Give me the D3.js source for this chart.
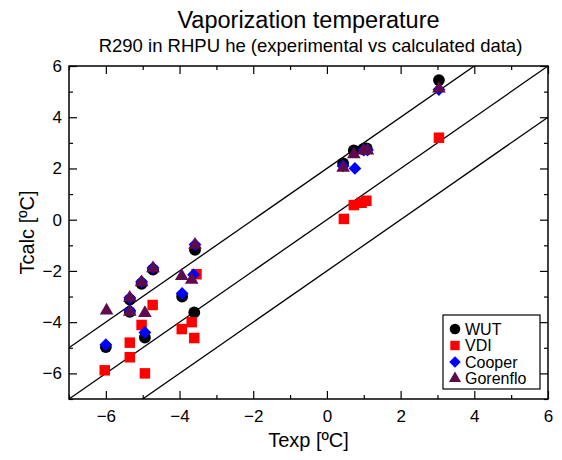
<!DOCTYPE html>
<html>
<head>
<meta charset="utf-8">
<script src="https://cdn.jsdelivr.net/npm/d3@7"></script>
<style>
  body { margin: 0; background: #fff; }
  text { font-family: "Liberation Sans", Arial, sans-serif; }
</style>
</head>
<body>
<div id="chart"></div>
<script>
// WUT (black circles)
var wutX = [-6.0, -5.35, -5.35, -5.03, -4.94, -4.72, -3.93, -3.6, -3.58, 0.44, 0.73, 0.99, 1.08, 3.04];
var wutY = [-4.97, -3.12, -3.6, -2.5, -4.6, -1.95, -3.0, -3.62, -1.18, 2.2, 2.7, 2.76, 2.78, 5.45];
// VDI (red squares)
var vdiX = [-6.03, -5.35, -5.35, -5.03, -4.94, -4.73, -3.94, -3.67, -3.6, -3.54, 0.46, 0.73, 0.94, 1.07, 3.04];
var vdiY = [-5.88, -4.8, -5.37, -4.11, -6.0, -3.33, -4.27, -4.0, -4.62, -2.13, 0.03, 0.57, 0.66, 0.74, 3.2];
// Cooper (blue diamonds)
var coopX = [-6.0, -5.35, -5.35, -5.03, -4.94, -4.72, -3.93, -3.62, -3.58, 0.44, 0.76, 1.0, 1.1, 3.04];
var coopY = [-4.88, -3.05, -3.55, -2.42, -4.4, -1.88, -2.88, -2.15, -0.97, 2.1, 2.0, 2.72, 2.72, 5.08];
// Gorenflo (purple triangles)
var gorX = [-5.98, -5.35, -5.35, -5.03, -4.94, -4.72, -3.94, -3.67, -3.58, 0.44, 0.73, 0.99, 1.1, 3.04];
var gorY = [-3.55, -3.05, -3.6, -2.45, -3.65, -1.9, -2.2, -2.35, -0.98, 2.02, 2.55, 2.7, 2.7, 5.12];

var seriesNames = ["WUT", "VDI", "Cooper", "Gorenflo"];
var tickValues = [-6, -4, -2, 0, 2, 4, 6];
var minorTicks = [-7, -5, -3, -1, 1, 3, 5];
var refOffsets = [2, 0, -2];   // Tcalc = Texp + offset

var W = 562, H = 460;
var margin = {top: 66, right: 14, bottom: 61, left: 69},
    width = W - margin.left - margin.right,
    height = H - margin.top - margin.bottom;

var svg = d3.select("#chart")
    .append("svg")
    .attr("width", W)
    .attr("height", H);

var g = svg.append("g")
    .attr("transform", "translate(" + margin.left + "," + margin.top + ")");

var x = d3.scaleLinear().domain([-7, 6]).range([0, width]);
var y = d3.scaleLinear().domain([-7, 6]).range([height, 0]);

svg.append("defs").append("clipPath").attr("id", "clip")
  .append("rect").attr("width", width).attr("height", height);

// reference lines
var lines = g.append("g").attr("clip-path", "url(#clip)");
refOffsets.forEach(function(o){
  lines.append("line")
    .attr("x1", x(-7)).attr("y1", y(-7 + o))
    .attr("x2", x(6)).attr("y2", y(6 + o))
    .attr("stroke", "#000").attr("stroke-width", 1.3);
});

// axes, ticks pointing inward on all four sides
function styleAxis(sel) {
  sel.select(".domain").remove();
  sel.selectAll("text").style("font-size", "17px").attr("fill", "#000");
  sel.selectAll("line").attr("stroke", "#000").attr("stroke-width", 1.2);
}
g.append("g").attr("transform", "translate(0," + height + ")")
  .call(d3.axisBottom(x).tickValues(tickValues).tickFormat(d3.format("d")).tickSizeInner(-8).tickPadding(11))
  .call(styleAxis);
g.append("g").attr("transform", "translate(0," + height + ")")
  .call(d3.axisBottom(x).tickValues(minorTicks).tickFormat("").tickSizeInner(-4))
  .call(styleAxis);
g.append("g")
  .call(d3.axisTop(x).tickValues(tickValues).tickFormat("").tickSizeInner(-8))
  .call(styleAxis);
g.append("g")
  .call(d3.axisTop(x).tickValues(minorTicks).tickFormat("").tickSizeInner(-4))
  .call(styleAxis);
g.append("g")
  .call(d3.axisLeft(y).tickValues(tickValues).tickFormat(d3.format("d")).tickSizeInner(-8).tickPadding(7))
  .call(styleAxis);
g.append("g")
  .call(d3.axisLeft(y).tickValues(minorTicks).tickFormat("").tickSizeInner(-4))
  .call(styleAxis);
g.append("g").attr("transform", "translate(" + width + ",0)")
  .call(d3.axisRight(y).tickValues(tickValues).tickFormat("").tickSizeInner(-8))
  .call(styleAxis);
g.append("g").attr("transform", "translate(" + width + ",0)")
  .call(d3.axisRight(y).tickValues(minorTicks).tickFormat("").tickSizeInner(-4))
  .call(styleAxis);

g.append("rect")
  .attr("width", width).attr("height", height)
  .attr("fill", "none").attr("stroke", "#000").attr("stroke-width", 1.5);

// markers (diamond = square turned 45deg)
var series = [
  {xs: wutX, ys: wutY, sym: d3.symbolCircle, size: 110, rot: 0, color: "#000000"},
  {xs: vdiX, ys: vdiY, sym: d3.symbolSquare, size: 110, rot: 0, color: "#ff0000"},
  {xs: coopX, ys: coopY, sym: d3.symbolSquare, size: 82, rot: 45, color: "#0000ff"},
  {xs: gorX, ys: gorY, sym: d3.symbolTriangle, size: 80, rot: 0, color: "#5f0a4f"}
];

series.forEach(function(s){
  var pts = s.xs.map(function(v, i){ return [v, s.ys[i]]; });
  g.append("g").selectAll("path")
    .data(pts)
    .enter().append("path")
    .attr("transform", function(d){ return "translate(" + x(d[0]) + "," + y(d[1]) + ") rotate(" + s.rot + ")"; })
    .attr("d", d3.symbol().type(s.sym).size(s.size))
    .attr("fill", s.color);
});

// legend
var lg = g.append("g").attr("transform", "translate(" + (443 - margin.left) + "," + (315 - margin.top) + ")");
lg.append("rect").attr("width", 97).attr("height", 74)
  .attr("fill", "#fff").attr("stroke", "#000").attr("stroke-width", 1.2);
series.forEach(function(s, i){
  var yy = 14 + i * 16.5;
  lg.append("path")
    .attr("transform", "translate(12," + yy + ") rotate(" + s.rot + ")")
    .attr("d", d3.symbol().type(s.sym).size(s.size * 0.8))
    .attr("fill", s.color);
  lg.append("text").attr("x", 22).attr("y", yy + 5.5)
    .style("font-size", "16px").text(seriesNames[i]);
});

// titles
svg.append("text").attr("x", margin.left + width / 2).attr("y", 28)
  .attr("text-anchor", "middle").style("font-size", "23.5px")
  .text("Vaporization temperature");
svg.append("text").attr("x", margin.left + width / 2 + 2).attr("y", 52)
  .attr("text-anchor", "middle").style("font-size", "18.5px")
  .text("R290 in RHPU he (experimental vs calculated data)");
svg.append("text").attr("x", margin.left + width / 2).attr("y", 447)
  .attr("text-anchor", "middle").style("font-size", "20px")
  .text("Texp [ºC]");
svg.append("text")
  .attr("transform", "translate(34," + (margin.top + height / 2) + ") rotate(-90)")
  .attr("text-anchor", "middle").style("font-size", "20px")
  .text("Tcalc [ºC]");
</script>
</body>
</html>
